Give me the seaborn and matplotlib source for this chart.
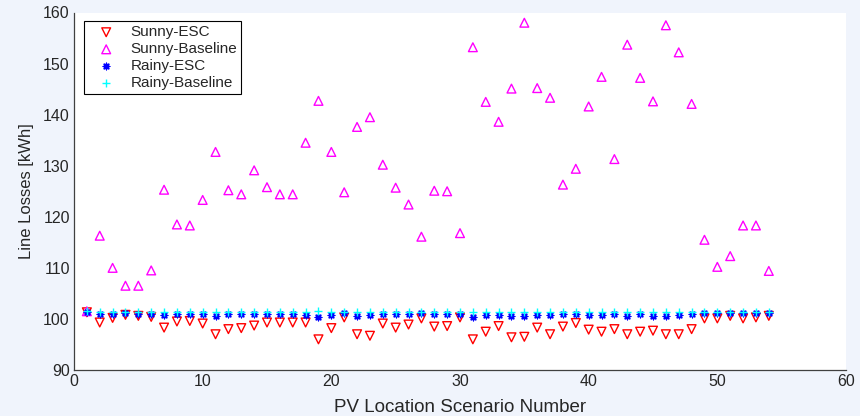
import numpy as np
import pandas as pd
import matplotlib
matplotlib.use("Agg")
import matplotlib.pyplot as plt
import seaborn as sns

scenario = list(range(1, 55))

sunny_esc = [101.3, 99.3, 100.2, 100.8, 100.6, 100.4, 98.3, 99.5, 99.6, 99.1,
             97.0, 98.0, 98.2, 98.7, 99.3, 99.3, 99.3, 99.3, 96.0, 98.2,
             100.3, 97.0, 96.7, 99.1, 98.3, 98.9, 100.1, 98.5, 98.6, 100.3,
             96.0, 97.5, 98.6, 96.4, 96.5, 98.3, 97.0, 98.5, 99.2, 97.9,
             97.5, 98.0, 97.0, 97.5, 97.7, 97.0, 97.0, 98.0, 100.1, 100.1,
             100.6, 100.1, 100.3, 100.6]

sunny_base = [101.5, 116.3, 110.0, 106.5, 106.5, 109.5, 125.3, 118.5, 118.3, 123.3,
              132.7, 125.2, 124.4, 129.1, 125.8, 124.4, 124.4, 134.5, 142.7, 132.7,
              124.8, 137.6, 139.5, 130.2, 125.7, 122.4, 116.1, 125.1, 125.0, 116.8,
              153.2, 142.5, 138.6, 145.1, 158.0, 145.2, 143.3, 126.3, 129.4, 141.6,
              147.4, 131.3, 153.7, 147.2, 142.6, 157.5, 152.2, 142.1, 115.5, 110.2,
              112.3, 118.3, 118.3, 109.4]

rainy_esc = [101.4, 101.0, 101.0, 101.1, 101.0, 100.9, 100.7, 100.9, 100.9, 100.9,
             100.6, 100.9, 101.0, 101.0, 100.9, 100.9, 100.9, 100.8, 100.3, 100.8,
             101.1, 100.6, 100.8, 100.9, 100.9, 100.9, 101.1, 100.9, 100.9, 100.9,
             100.4, 100.8, 100.8, 100.6, 100.6, 100.8, 100.8, 101.0, 100.9, 100.8,
             100.8, 101.0, 100.6, 100.9, 100.6, 100.6, 100.8, 101.0, 101.1, 101.1,
             101.1, 101.1, 101.1, 101.1]

rainy_base = [101.5, 101.3, 101.3, 101.3, 101.3, 101.3, 101.3, 101.3, 101.3, 101.3,
              101.3, 101.3, 101.3, 101.3, 101.3, 101.3, 101.3, 101.3, 101.5, 101.3,
              101.3, 101.3, 101.4, 101.3, 101.3, 101.3, 101.3, 101.3, 101.3, 101.3,
              101.3, 101.3, 101.3, 101.3, 101.3, 101.3, 101.3, 101.3, 101.3, 101.3,
              101.3, 101.3, 101.3, 101.3, 101.3, 101.3, 101.3, 101.3, 101.3, 101.3,
              101.3, 101.3, 101.3, 101.3]

series_names = ["Sunny-ESC", "Sunny-Baseline", "Rainy-ESC", "Rainy-Baseline"]

sns.set_style("white")
plt.rcParams['font.family'] = ['Liberation Sans', 'DejaVu Sans']

bg = "#F0F4FC"
fig = plt.figure(figsize=(8.6, 4.16), dpi=100, facecolor=bg)
ax = fig.add_axes([74/860, 1-370/416, (846-74)/860, (370-12.5)/416])
ax.set_facecolor("white")

styles = {
    "Sunny-ESC": dict(marker="v", color="red", hollow=True, s=40),
    "Sunny-Baseline": dict(marker="^", color="magenta", hollow=True, s=40),
    "Rainy-ESC": dict(marker=(8, 2, 0), color="blue", hollow=False, s=22),
    "Rainy-Baseline": dict(marker="+", color="cyan", hollow=False, s=40),
}
data = {"Sunny-ESC": sunny_esc, "Sunny-Baseline": sunny_base,
        "Rainy-ESC": rainy_esc, "Rainy-Baseline": rainy_base}

for name in series_names:
    df = pd.DataFrame({"x": scenario, "y": data[name]})
    st = styles[name]
    if st["hollow"]:
        sns.scatterplot(data=df, x="x", y="y", ax=ax, marker=st["marker"],
                        facecolors="none", edgecolor=st["color"], linewidth=1.0,
                        s=st["s"], label=name, zorder=3)
    else:
        sns.scatterplot(data=df, x="x", y="y", ax=ax, marker=st["marker"],
                        color=st["color"], linewidth=1.0, s=st["s"], label=name, zorder=3)

ax.set_xlim(0, 60)
ax.set_ylim(90, 160)
ax.set_xticks(range(0, 61, 10))
ax.set_yticks(range(90, 161, 10))
ax.tick_params(axis="both", direction="in", length=4, width=0.8, colors="#262626",
               labelsize=11.5, pad=3)
for s in ["top", "right"]:
    ax.spines[s].set_visible(False)
for s in ["left", "bottom"]:
    ax.spines[s].set_color("#404040")
    ax.spines[s].set_linewidth(0.9)

ax.set_xlabel("PV Location Scenario Number", fontsize=13.5, color="#262626", labelpad=7)
ax.set_ylabel("Line Losses [kWh]", fontsize=12, color="#262626")
ax.yaxis.set_label_coords(-0.052, 0.5)

leg = ax.legend(loc="upper left", bbox_to_anchor=(0.013, 0.975), fontsize=11,
                frameon=True, fancybox=False, edgecolor="black", framealpha=1,
                borderpad=0.25, labelspacing=0.2, handlelength=2.4, handletextpad=0.4,
                borderaxespad=0)
leg.get_frame().set_linewidth(0.8)

fig.savefig("out.png", dpi=100, facecolor=bg)
